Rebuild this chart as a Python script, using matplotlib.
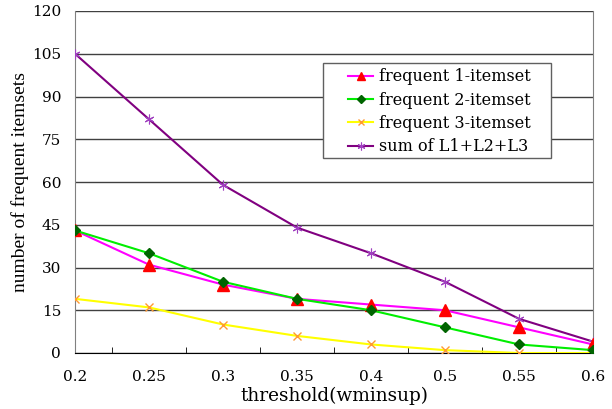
import matplotlib
matplotlib.use("Agg")
import matplotlib.pyplot as plt
from matplotlib.patches import Rectangle
import numpy as np

categories = ["0.2", "0.25", "0.3", "0.35", "0.4", "0.5", "0.55", "0.6"]
l1 = [43, 31, 24, 19, 17, 15, 9, 3]
l2 = [43, 35, 25, 19, 15, 9, 3, 1]
l3 = [19, 16, 10, 6, 3, 1, 0, 0]
total = [105, 82, 59, 44, 35, 25, 12, 4]
y_ticks = [0, 15, 30, 45, 60, 75, 90, 105, 120]

plt.rcParams['font.family'] = ['DejaVu Serif']

W, H = 612, 409
fig = plt.figure(figsize=(W/100, H/100), dpi=100)
L, R, T, B = 75, 593, 11, 353
ax = fig.add_axes([L/W, 1-B/H, (R-L)/W, (B-T)/H])

x = np.arange(len(categories))
ax.plot(x, l1, color='#ff00ff', lw=1.5, marker='^', mfc='red', mec='red', ms=8, label='frequent 1-itemset', zorder=4)
ax.plot(x, l2, color='#00ee00', lw=1.5, marker='D', mfc='#006400', mec='#006400', ms=5, label='frequent 2-itemset', zorder=4)
ax.plot(x, l3, color='#ffff00', lw=1.5, marker='x', mec='#ff9933', ms=6, mew=1, label='frequent 3-itemset', zorder=3)
ax.plot(x, total, color='#800080', lw=1.5, marker=(6, 2, 0), mec='#a040c0', ms=7, mew=0.8, label='sum of L1+L2+L3', zorder=3)

ax.set_xlim(0, len(categories)-1)
ax.set_ylim(0, 120)
ax.set_yticks(y_ticks)
ax.set_xticks(x)
ax.set_xticklabels(categories)
ax.set_xticks(x[:-1] + 0.5, minor=True)
ax.tick_params(axis='x', which='major', length=0, pad=12, labelsize=11)
ax.tick_params(axis='x', which='minor', length=4, direction='in', color='black')
ax.tick_params(axis='y', length=0, pad=10, labelsize=11)
ax.yaxis.grid(True, color='#404040', lw=1)
ax.set_axisbelow(True)
for s in ['left', 'right']:
    ax.spines[s].set_color('#808080')
ax.spines['top'].set_visible(False)
ax.spines['bottom'].set_color('black')

ax.set_xlabel('threshold(wminsup)', fontsize=13.3, labelpad=2)
ax.set_ylabel('number of frequent itemsets', fontsize=14, labelpad=2,
              family=['Liberation Serif', 'DejaVu Serif'])

# legend box
bx0, bx1, by0, by1 = 323, 551, 63, 158
fx = lambda px: (px - L) / (R - L)
fy = lambda py: (B - py) / (B - T)
ax.add_patch(Rectangle((fx(bx0), fy(by1)), fx(bx1) - fx(bx0), fy(by0) - fy(by1),
                       transform=ax.transAxes, facecolor='white', edgecolor='#606060',
                       lw=1, zorder=5))
leg = ax.legend(loc='upper left', bbox_to_anchor=(fx(bx0 + 22), fy(by0 + 2)), fontsize=11.5,
                frameon=False, borderaxespad=0, markerscale=0.8,
                handlelength=1.55, handletextpad=0.4, borderpad=0.2, labelspacing=0.4)
leg.set_zorder(6)

fig.savefig('out.png', dpi=100)
